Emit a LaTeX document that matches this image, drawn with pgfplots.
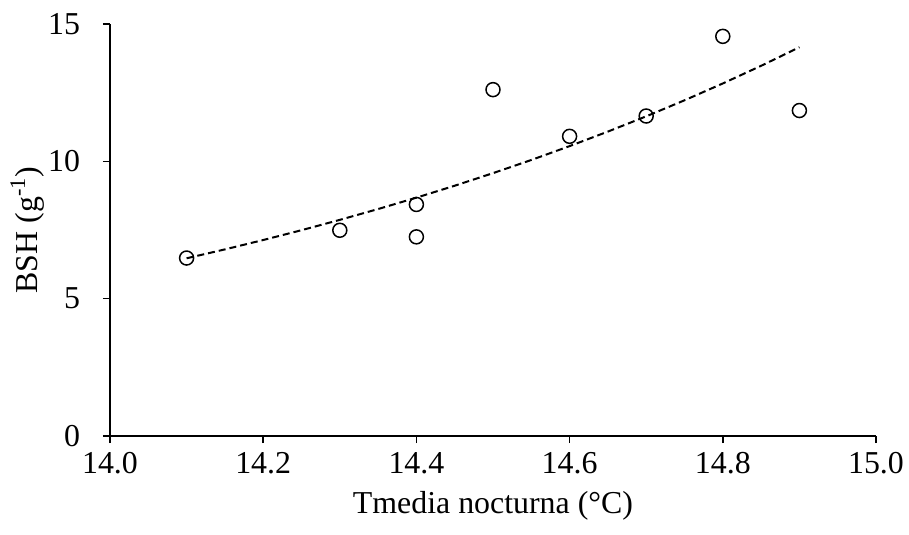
\documentclass[border=0pt]{standalone}
\usepackage{fontspec}
\setmainfont{Liberation Serif}
\usepackage{pgfplots}
\pgfplotsset{compat=1.18}
\begin{document}
\fontsize{16}{19}\selectfont
\begin{tikzpicture}
\path[use as bounding box] (-55bp,-49.5bp) rectangle (399.5bp,218bp);
\begin{axis}[
  at={(0,0)}, anchor=origin,
  scale only axis,
  width=383bp, height=206bp,
  xmin=14, xmax=15, ymin=0, ymax=15,
  axis x line*=bottom, axis y line*=left,
  axis line style={line width=0.75bp, -},
  xtick={14,14.2,14.4,14.6,14.8,15},
  ytick={0,5,10,15},
  tick align=outside,
  major tick length=3.5bp,
  tick style={line width=0.75bp, black},
  xticklabel style={/pgf/number format/fixed, /pgf/number format/fixed zerofill, /pgf/number format/precision=1, yshift=1bp},
  yticklabel style={xshift=-6bp},
  /pgf/number format/assume math mode=true,
  ticklabel style={font=\fontsize{16}{19}\selectfont},
  label style={font=\fontsize{16}{19}\selectfont},
  xlabel={Tmedia nocturna (°C)},
  ylabel={BSH (g\textsuperscript{-1})},
  xlabel shift=-2bp,
  ylabel shift=-9bp,
  clip=false,
]
\addplot[only marks, mark=o, mark size=3.5bp, mark options={line width=0.75bp, black}] coordinates {
(14.1,6.48) (14.3,7.49) (14.4,8.43) (14.4,7.25) (14.5,12.61) (14.6,10.91) (14.7,11.65) (14.8,14.55) (14.9,11.85)
};
\addplot[black, line width=1bp, dash pattern=on 3.5bp off 2bp] coordinates {
(14.1,6.47) (14.15,6.794) (14.2,7.135) (14.25,7.493) (14.3,7.869) (14.35,8.263) (14.4,8.677) (14.45,9.112) (14.5,9.570) (14.55,10.049) (14.6,10.554) (14.65,11.083) (14.7,11.638) (14.75,12.222) (14.8,12.835) (14.85,13.478) (14.9,14.154)
};
\end{axis}
\end{tikzpicture}
\end{document}
